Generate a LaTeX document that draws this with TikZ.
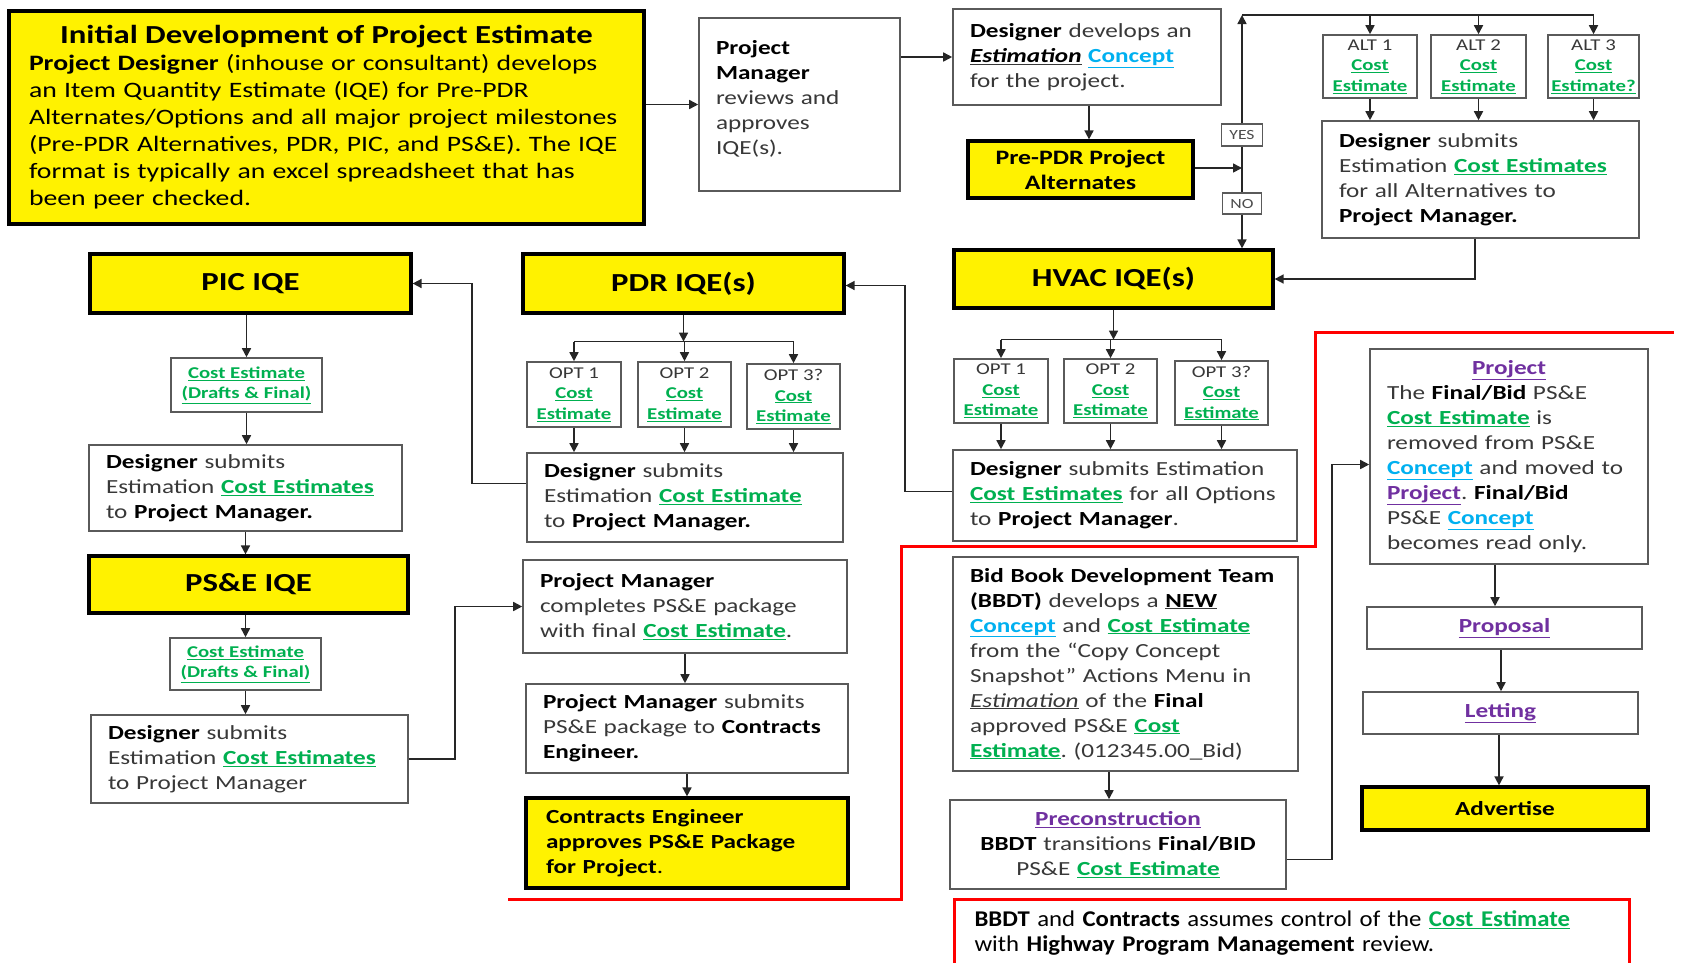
\documentclass[tikz,border=0pt]{standalone}
\usepackage{fontspec}
\setmainfont{Carlito}[FakeStretch=1.26]
\newfontfamily\narrowfont{Carlito}[FakeStretch=1.1]
\usepackage{xcolor}
\usetikzlibrary{arrows.meta, calc}
\frenchspacing

\definecolor{ceGreen}{RGB}{0,176,80}
\definecolor{conBlue}{RGB}{0,176,240}
\definecolor{projPurple}{RGB}{112,48,160}
\definecolor{boxGray}{RGB}{90,90,90}

\newcommand{\cost}[1]{\textcolor{ceGreen}{\underline{\textbf{#1}}}}
\newcommand{\conc}[1]{\textcolor{conBlue}{\underline{\textbf{#1}}}}
\newcommand{\proj}[1]{\textcolor{projPurple}{\underline{\textbf{#1}}}}
\newcommand{\bk}[1]{\textbf{\color{black}#1}}

\begin{document}
\begin{tikzpicture}[x=1pt, y=-1pt,
  plain/.style={draw=boxGray, line width=1.6pt, fill=white, inner xsep=0pt, inner ysep=2pt,
    align=left, text=black!78, font=\fontsize{20}{25}\selectfont},
  ybox/.style={draw=black, line width=3.2pt, fill=yellow, inner sep=0pt, align=center,
    font=\fontsize{26}{30}\selectfont\bfseries},
  small/.style={draw=boxGray, line width=1.6pt, fill=white, inner sep=0pt, align=center,
    text=black!78, font=\fontsize{16.5}{20.5}\selectfont},
  tag/.style={draw=boxGray, line width=1.4pt, fill=white, inner sep=0pt, text=black!70,
    font=\fontsize{14}{16}\selectfont},
  arr/.style={draw=black!85, line width=1.6pt, -{Triangle[length=9pt, width=9pt]}},
  link/.style={draw=black!85, line width=1.6pt},
  redline/.style={draw=red, line width=3pt}]

  \useasboundingbox (0,0) rectangle (1696,962);

  % Top row
  \node[plain, draw=black, line width=3.2pt, fill=yellow, text=black, minimum width=635,
    minimum height=213, text width=595, font=\fontsize{22}{27}\selectfont] (init) at (326.5,117.5)
    {\makebox[\linewidth][c]{\fontsize{26}{30}\selectfont\bfseries Initial Development of Project Estimate}\\
     \textbf{Project Designer} (inhouse or consultant) develops\\
     an Item Quantity Estimate (IQE) for Pre-PDR\\
     Alternates/Options and all major project milestones\\
     (Pre-PDR Alternatives, PDR, PIC, and PS\&E). The IQE\\
     format is typically an excel spreadsheet that has\\
     been peer checked.};
  \node[plain, minimum width=201, minimum height=173, text width=167] (pmrev) at (799.5,104.5)
    {\bk{Project}\\ \bk{Manager}\\ reviews and\\ approves\\ IQE(s).\\[-10pt] \mbox{}};
  \node[plain, minimum width=268, minimum height=96, text width=234] (devconc) at (1087,57)
    {\bk{Designer} develops an\\ \underline{\bk{\textit{Estimation}}} \conc{Concept}\\ for the project.};
  \node[ybox, minimum width=225, minimum height=57, font=\fontsize{20.5}{25}\selectfont\bfseries]
    (prepdr) at (1080.5,169.5) {Pre-PDR Project\\ Alternates};

  % Decision line
  \coordinate (split) at (1242,168);
  \coordinate (yestop) at (1242,15);
  \node[tag, minimum width=41, minimum height=22] (yes) at (1242,135) {YES};
  \node[tag, minimum width=39, minimum height=21] (no) at (1242,203.5) {NO};

  % Alternates
  \node[small, minimum width=94, minimum height=63] (alt1) at (1370,66.5) {ALT 1\\ \cost{Cost}\\ \cost{Estimate}};
  \node[small, minimum width=95, minimum height=63] (alt2) at (1478.5,66.5) {ALT 2\\ \cost{Cost}\\ \cost{Estimate}};
  \node[small, minimum width=91, minimum height=63] (alt3) at (1593.5,66.5) {ALT 3\\ \cost{Cost}\\ \cost{Estimate?}};
  \node[plain, minimum width=317, minimum height=117, text width=283] (altsub) at (1480.5,179.5)
    {\bk{Designer} submits\\ Estimation \cost{Cost Estimates}\\ for all Alternatives to\\ \bk{Project Manager.}};

  % IQE milestones
  \node[ybox, minimum width=319, minimum height=58] (hvac) at (1113.5,279) {HVAC IQE(s)};
  \node[ybox, minimum width=321, minimum height=59] (pdr) at (683.5,283.5) {PDR IQE(s)};
  \node[ybox, minimum width=321, minimum height=59] (pic) at (250.5,283.5) {PIC IQE};

  % PIC column
  \node[small, minimum width=151, minimum height=54] (picce) at (246.5,385)
    {\cost{Cost Estimate}\\ \cost{(Drafts \& Final)}};
  \node[plain, minimum width=313, minimum height=86, text width=279] (picsub) at (245.5,488)
    {\bk{Designer} submits\\ Estimation \cost{Cost Estimates}\\ to \bk{Project Manager.}};
  \node[ybox, minimum width=319, minimum height=57] (pse) at (248.5,584.5) {PS\&E IQE};
  \node[small, minimum width=151, minimum height=52] (psece) at (245.5,664)
    {\cost{Cost Estimate}\\ \cost{(Drafts \& Final)}};
  \node[plain, minimum width=317, minimum height=88, text width=283] (psesub) at (249.5,759)
    {\bk{Designer} submits\\ Estimation \cost{Cost Estimates}\\ to Project Manager};

  % PDR column
  \node[small, minimum width=94, minimum height=65] (pdro1) at (574,394.5) {OPT 1\\ \cost{Cost}\\ \cost{Estimate}};
  \node[small, minimum width=93, minimum height=65] (pdro2) at (684.5,394.5) {OPT 2\\ \cost{Cost}\\ \cost{Estimate}};
  \node[small, minimum width=93, minimum height=65] (pdro3) at (793.5,396.5) {OPT 3?\\ \cost{Cost}\\ \cost{Estimate}};
  \node[plain, minimum width=316, minimum height=89, text width=282] (pdrsub) at (685,497.5)
    {\bk{Designer} submits\\ Estimation \cost{Cost Estimate}\\ to \bk{Project Manager.}};
  \node[plain, minimum width=324, minimum height=93, text width=290] (pmcomp) at (685,606.5)
    {\bk{Project Manager}\\ completes PS\&E package\\ with final \cost{Cost Estimate}.};
  \node[plain, minimum width=322, minimum height=89, text width=288] (pmsub) at (687,728.5)
    {\bk{Project Manager} submits\\ PS\&E package to \bk{Contracts}\\ \bk{Engineer.}};
  \node[ybox, align=left, minimum width=322, minimum height=90, text width=282,
    font=\fontsize{20}{25}\selectfont\bfseries] (ceng) at (687,843)
    {Contracts Engineer\\ approves PS\&E Package\\ for Project\mdseries.};

  % HVAC column
  \node[small, minimum width=94, minimum height=64] (hvo1) at (1001,391) {OPT 1\\ \cost{Cost}\\ \cost{Estimate}};
  \node[small, minimum width=93, minimum height=64] (hvo2) at (1110.5,391) {OPT 2\\ \cost{Cost}\\ \cost{Estimate}};
  \node[small, minimum width=93, minimum height=64] (hvo3) at (1221.5,393) {OPT 3?\\ \cost{Cost}\\ \cost{Estimate}};
  \node[plain, minimum width=344, minimum height=91, text width=310] (hvsub) at (1125,495.5)
    {\bk{Designer} submits Estimation\\ \cost{Cost Estimates} for all Options\\ to \bk{Project Manager}.};
  \node[plain, minimum width=345, minimum height=214, text width=311] (bbdt) at (1125.5,664)
    {\bk{Bid Book Development Team}\\ \bk{(BBDT)} develops a \underline{\bk{NEW}}\\
     \conc{Concept} and \cost{Cost Estimate}\\ from the “Copy Concept\\ Snapshot” Actions Menu in\\
     \underline{\textit{Estimation}} of the \bk{Final}\\ approved PS\&E \cost{Cost}\\
     \cost{Estimate}. (012345.00\_Bid)};
  \node[plain, align=center, minimum width=336, minimum height=89, text width=310] (precon) at (1118,844.5)
    {\proj{Preconstruction}\\ \bk{BBDT} transitions \bk{Final/BID}\\ PS\&E \cost{Cost Estimate}};

  % Project column
  \node[plain, minimum width=278, minimum height=215, text width=244] (project) at (1509,456.5)
    {\makebox[\linewidth][c]{\proj{Project}}\\ The \bk{Final/Bid} PS\&E\\ \cost{Cost Estimate} is\\
     removed from PS\&E\\ \conc{Concept} and moved to\\ \proj{Project}. \bk{Final/Bid}\\
     PS\&E \conc{Concept}\\ becomes read only.};
  \node[plain, align=center, minimum width=275, minimum height=42] (proposal) at (1504.5,628) {\proj{Proposal}};
  \node[plain, align=center, minimum width=275, minimum height=42] (letting) at (1500.5,713) {\proj{Letting}};
  \node[ybox, minimum width=286, minimum height=43, font=\fontsize{20}{25}\selectfont\bfseries]
    (advert) at (1505,808.5) {Advertise};

  % Control note
  \node[draw=red, line width=3pt, fill=white, anchor=north west, minimum width=675, minimum height=72,
    inner xsep=20pt, align=left, text width=635, font=\narrowfont\fontsize{22.5}{25}\selectfont]
    (ctrl) at (953,898)
    {\textbf{BBDT} and \textbf{Contracts} assumes control of the \cost{Cost Estimate}\\
     with \textbf{Highway Program Management} review.\\[-17pt] \mbox{}};

  % Red boundary
  \draw[redline] (508,899) -- (901,899) -- (901,546) -- (1315,546) -- (1315,332) -- (1674,332);

  % Top row connectors
  \draw[arr] (init.east |- pmrev.west) -- (pmrev.west);
  \draw[arr] (pmrev.east |- devconc.west) -- (devconc.west);
  \draw[arr] (devconc.south -| 1089,0) -- (prepdr.north -| 1089,0);
  \draw[arr] (prepdr.east |- split) -- (split);
  \draw[link] (split) -- (yes.south);
  \draw[arr] (yes.north) -- (yestop);
  \draw[link] (yestop) -- (yestop -| alt3.north);
  \foreach \a in {alt1,alt2,alt3} {
    \draw[arr] (yestop -| \a.north) -- (\a.north);
    \draw[arr] (\a.south) -- (\a.south |- altsub.north);
  }
  \draw[link] (split) -- (no.north);
  \draw[arr] (no.south) -- (no.south |- hvac.north);
  \draw[arr] (altsub.south -| 1475,0) |- (hvac.east);

  % HVAC options
  \coordinate (hvj) at ($(hvac.south)+(0,30)$);
  \draw[arr] (hvac.south) -- (hvj);
  \draw[link] (hvj -| hvo1.north) -- (hvj -| hvo3.north);
  \foreach \o in {hvo1,hvo2,hvo3} {
    \draw[arr] (hvj -| \o.north) -- (\o.north);
    \draw[arr] (\o.south) -- (\o.south |- hvsub.north);
  }
  \draw[arr] ([yshift=4pt]hvsub.west) -- ++(-47,0) |- ([yshift=-2pt]pdr.east);

  % PDR options
  \coordinate (pdrj) at ($(pdr.south)+(0,27)$);
  \draw[arr] (pdr.south) -- (pdrj);
  \draw[link] (pdrj -| pdro1.north) -- (pdrj -| pdro3.north);
  \foreach \o in {pdro1,pdro2,pdro3} {
    \draw[arr] (pdrj -| \o.north) -- (\o.north);
    \draw[arr] (\o.south) -- (\o.south |- pdrsub.north);
  }
  \draw[arr] ([yshift=14pt]pdrsub.west) -- ++(-54,0) |- (pic.east);

  % PIC / PS&E chain
  \draw[arr] (pic.south -| picce.north) -- (picce.north);
  \draw[arr] (picce.south) -- (picce.south |- picsub.north);
  \draw[arr] (picsub.south) -- (picsub.south |- pse.north);
  \draw[arr] (pse.south -| psece.north) -- (psece.north);
  \draw[arr] (psece.south) -- (psece.south |- psesub.north);
  \draw[arr] (psesub.east) -- ++(46,0) |- (pmcomp.west);
  \draw[arr] (pmcomp.south) -- (pmcomp.south |- pmsub.north);
  \draw[arr] (pmsub.south) -- (pmsub.south |- ceng.north);

  % Bid book chain
  \draw[arr] (bbdt.south -| 1109,0) -- (precon.north -| 1109,0);
  \draw[arr] ([yshift=-15pt]precon.east) -- ++(45,0) |- ([yshift=-8pt]project.west);
  \draw[arr] (project.south -| 1495,0) -- (proposal.north -| 1495,0);
  \draw[arr] (proposal.south -| 1501,0) -- (letting.north -| 1501,0);
  \draw[arr] (letting.south -| 1499,0) -- (advert.north -| 1499,0);

\end{tikzpicture}
\end{document}
